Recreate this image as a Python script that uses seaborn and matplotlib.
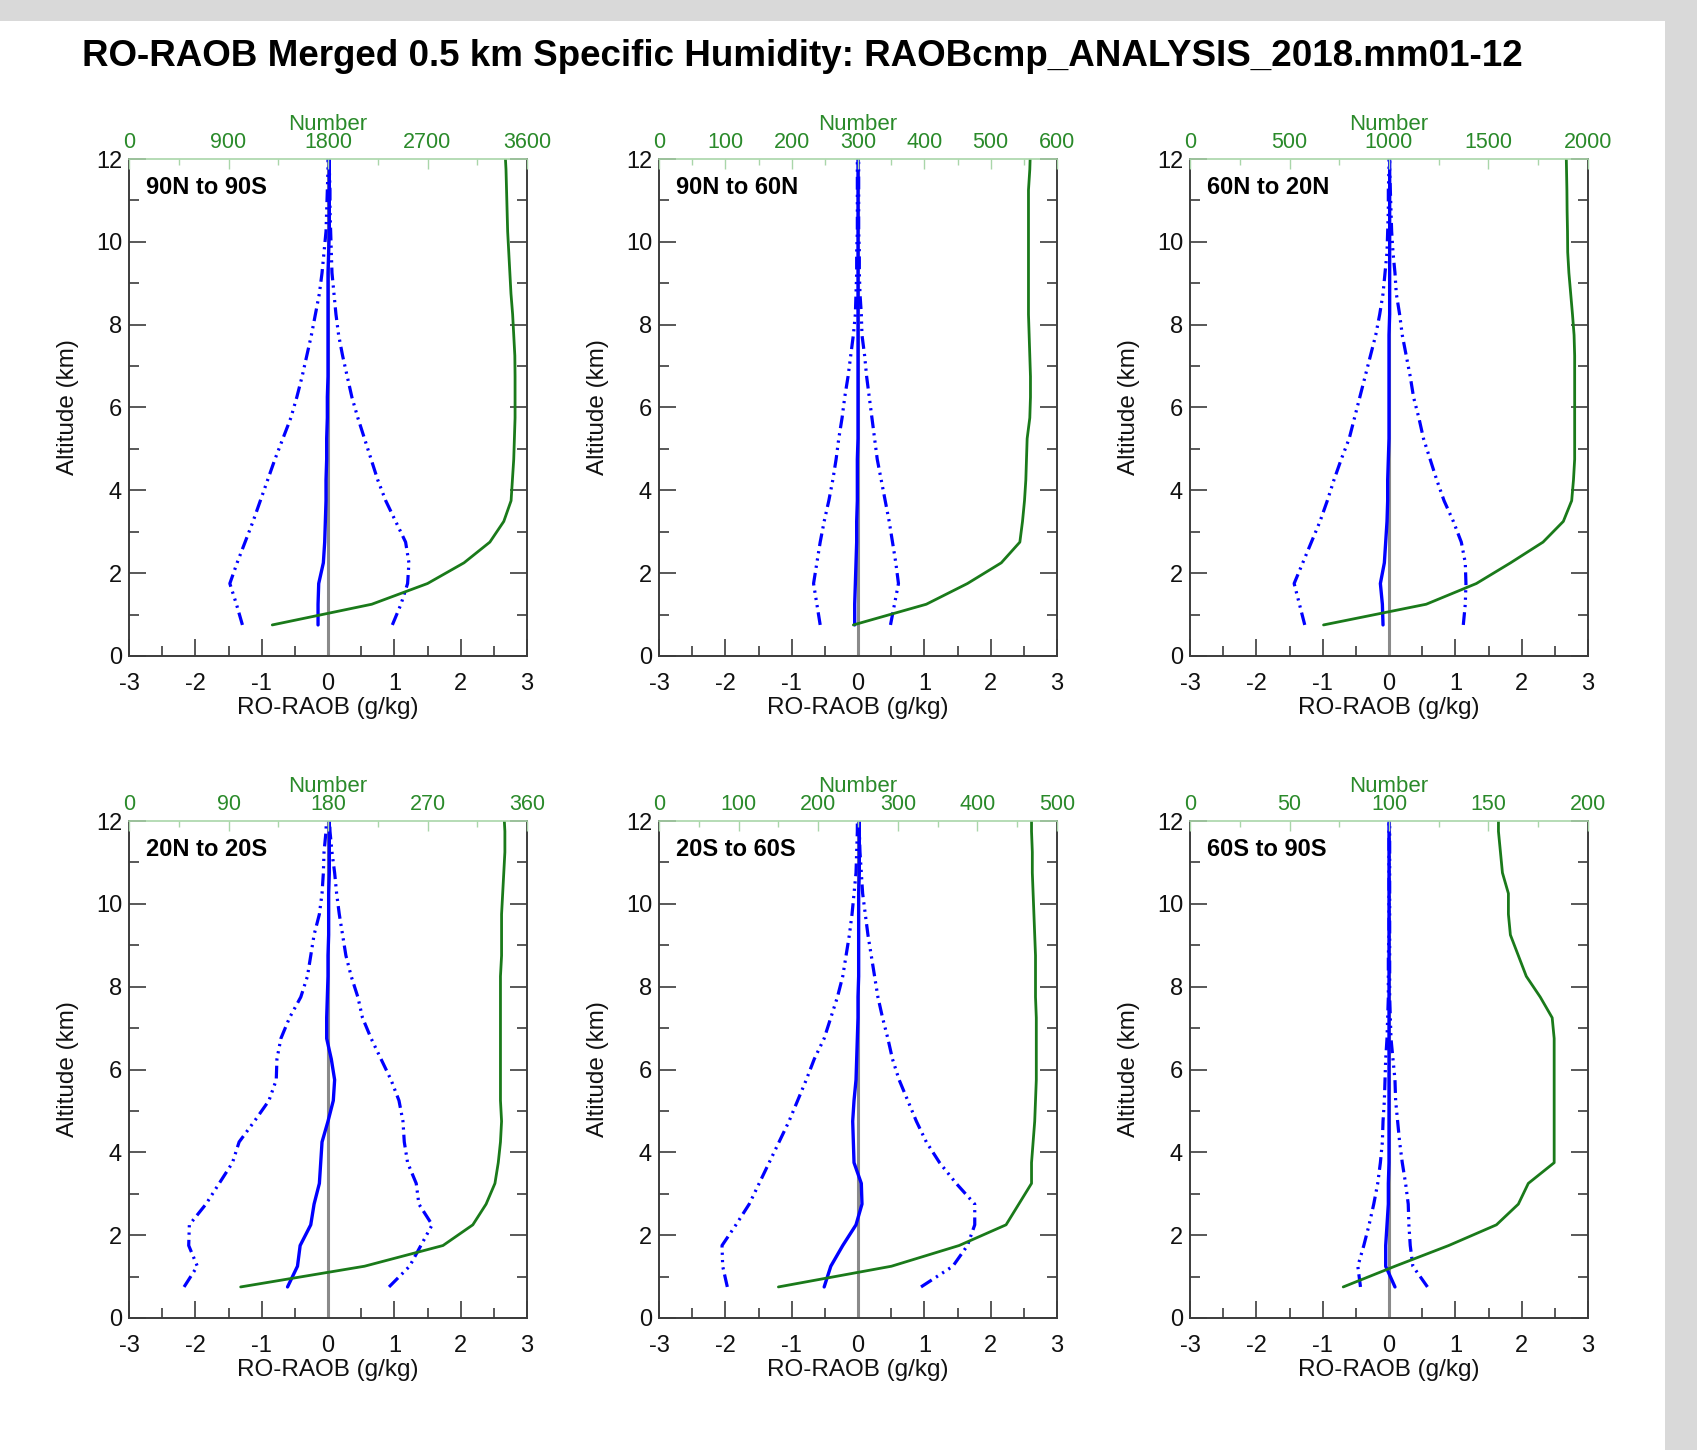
import numpy as np
import pandas as pd
import matplotlib
matplotlib.use("Agg")
import matplotlib.pyplot as plt
from matplotlib.ticker import MultipleLocator
from matplotlib.patches import Rectangle
import seaborn as sns

# ---------------- data ----------------
title = "RO-RAOB Merged 0.5 km Specific Humidity: RAOBcmp_ANALYSIS_2018.mm01-12"
regions = ["90N to 90S", "90N to 60N", "60N to 20N", "20N to 20S", "20S to 60S", "60S to 90S"]
altitude = [0.75, 1.25, 1.75, 2.25, 2.75, 3.25, 3.75, 4.25, 4.75, 5.25, 5.75, 6.25,
            6.75, 7.25, 7.75, 8.25, 8.75, 9.25, 9.75, 10.25, 10.75, 11.25, 11.75, 12.25]
number_max = [3600, 600, 2000, 360, 500, 200]
number_step = [900, 100, 500, 90, 100, 50]

mean1 = [-0.15, -0.15, -0.14, -0.07, -0.05, -0.04, -0.03, -0.03, -0.02, -0.02, -0.01, -0.01,
         0.0, 0.0, 0.0, 0.0, 0.0, 0.0, 0.01, 0.02, 0.02, 0.02, 0.02, 0.02]
lo1 = [-1.29, -1.38, -1.48, -1.37, -1.25, -1.13, -1.02, -0.91, -0.80, -0.68, -0.56, -0.47,
       -0.39, -0.32, -0.25, -0.19, -0.13, -0.09, -0.06, -0.03, -0.02, -0.01, 0.0, 0.0]
hi1 = [0.97, 1.10, 1.20, 1.22, 1.17, 1.02, 0.87, 0.75, 0.65, 0.55, 0.45, 0.36,
       0.29, 0.22, 0.16, 0.12, 0.09, 0.06, 0.05, 0.04, 0.03, 0.03, 0.02, 0.02]
num1 = [1296, 2196, 2700, 3030, 3264, 3390, 3456, 3468, 3480, 3486, 3492, 3492,
        3492, 3490, 3480, 3470, 3455, 3445, 3435, 3425, 3420, 3415, 3410, 3400]

mean2 = [-0.05, -0.05, -0.04, -0.03, -0.02, -0.02, -0.01, -0.01, -0.01, 0.0, 0.0, 0.0,
         0.0, 0.0, 0.0, 0.0, 0.0, 0.0, 0.0, 0.0, 0.0, 0.0, 0.0, 0.0]
lo2 = [-0.57, -0.62, -0.67, -0.62, -0.57, -0.51, -0.44, -0.38, -0.33, -0.29, -0.24, -0.20,
       -0.15, -0.11, -0.07, -0.04, -0.03, -0.02, -0.02, -0.01, -0.01, -0.01, -0.01, -0.01]
hi2 = [0.49, 0.55, 0.61, 0.57, 0.52, 0.47, 0.41, 0.35, 0.29, 0.25, 0.21, 0.17,
       0.13, 0.10, 0.06, 0.05, 0.03, 0.02, 0.02, 0.01, 0.01, 0.01, 0.01, 0.01]
num2 = [293, 403, 465, 516, 544, 548, 551, 553, 554, 555, 559, 560,
        560, 559, 558, 557, 557, 557, 557, 557, 557, 557, 559, 560]

mean3 = [-0.09, -0.10, -0.13, -0.07, -0.05, -0.03, -0.02, -0.02, -0.01, 0.0, 0.0, 0.0,
         0.0, 0.0, 0.0, 0.01, 0.01, 0.01, 0.01, 0.01, 0.01, 0.01, 0.01, 0.01]
lo3 = [-1.27, -1.35, -1.43, -1.30, -1.17, -1.04, -0.93, -0.83, -0.72, -0.60, -0.52, -0.44,
       -0.36, -0.28, -0.20, -0.14, -0.09, -0.06, -0.03, -0.02, -0.01, -0.01, 0.0, 0.0]
hi3 = [1.12, 1.15, 1.16, 1.15, 1.09, 0.97, 0.83, 0.72, 0.62, 0.52, 0.45, 0.37,
       0.32, 0.26, 0.20, 0.16, 0.11, 0.09, 0.06, 0.04, 0.03, 0.02, 0.01, 0.01]
num3 = [671, 1187, 1439, 1611, 1774, 1876, 1918, 1927, 1933, 1933, 1933, 1933,
        1933, 1933, 1930, 1922, 1913, 1904, 1898, 1897, 1895, 1894, 1892, 1890]

mean4 = [-0.61, -0.46, -0.42, -0.26, -0.21, -0.13, -0.11, -0.09, 0.0, 0.08, 0.10, 0.05,
         -0.02, -0.02, -0.01, 0.0, 0.0, 0.01, 0.01, 0.01, 0.02, 0.02, 0.02, 0.02]
lo4 = [-2.17, -1.97, -2.10, -2.09, -1.84, -1.64, -1.44, -1.34, -1.11, -0.89, -0.78, -0.77,
       -0.71, -0.58, -0.41, -0.31, -0.26, -0.21, -0.13, -0.09, -0.07, -0.06, -0.03, -0.02]
hi4 = [0.92, 1.23, 1.40, 1.57, 1.37, 1.33, 1.20, 1.15, 1.13, 1.07, 0.95, 0.80,
       0.65, 0.52, 0.45, 0.35, 0.27, 0.22, 0.17, 0.13, 0.10, 0.06, 0.03, 0.02]
num4 = [101, 213, 284, 311, 323, 331, 334, 336, 337, 336, 336, 336,
        336, 336, 336, 336, 337, 337, 337, 338, 339, 340, 340, 339]

mean5 = [-0.51, -0.41, -0.23, -0.03, 0.06, 0.05, -0.06, -0.07, -0.08, -0.06, -0.03, -0.02,
         -0.01, 0.0, 0.0, 0.01, 0.01, 0.01, 0.01, 0.01, 0.02, 0.02, 0.02, 0.02]
lo5 = [-1.97, -2.04, -2.05, -1.84, -1.64, -1.49, -1.34, -1.19, -1.04, -0.91, -0.78, -0.66,
       -0.51, -0.41, -0.31, -0.23, -0.18, -0.13, -0.09, -0.06, -0.03, -0.02, -0.01, -0.01]
hi5 = [0.95, 1.43, 1.65, 1.76, 1.76, 1.48, 1.23, 1.03, 0.88, 0.75, 0.62, 0.52,
       0.45, 0.37, 0.30, 0.25, 0.20, 0.15, 0.11, 0.07, 0.05, 0.03, 0.02, 0.02]
num5 = [150, 292, 377, 436, 452, 468, 468, 470, 472, 473, 474, 474,
        474, 474, 473, 473, 473, 472, 471, 470, 469, 469, 468, 468]

mean6 = [0.09, -0.05, -0.05, -0.03, -0.01, -0.01, 0.0, 0.0, 0.0, 0.0, 0.0, 0.0,
         0.0, 0.0, 0.0, 0.0, 0.0, 0.0, 0.0, 0.0, 0.0, 0.0, 0.0, 0.0]
lo6 = [-0.43, -0.47, -0.38, -0.30, -0.23, -0.17, -0.13, -0.10, -0.09, -0.07, -0.06, -0.05,
       -0.03, -0.02, -0.01, -0.01, -0.01, 0.0, 0.0, 0.0, 0.0, 0.0, 0.0, 0.0]
hi6 = [0.58, 0.36, 0.32, 0.30, 0.29, 0.25, 0.20, 0.16, 0.13, 0.10, 0.09, 0.06,
       0.03, 0.02, 0.01, 0.01, 0.01, 0.01, 0.01, 0.01, 0.01, 0.01, 0.01, 0.01]
num6 = [77, 103, 130, 154, 165, 170, 183, 183, 183, 183, 183, 183,
        183, 182, 176, 169, 165, 161, 160, 160, 157, 156, 155, 155]

means = [mean1, mean2, mean3, mean4, mean5, mean6]
lows = [lo1, lo2, lo3, lo4, lo5, lo6]
highs = [hi1, hi2, hi3, hi4, hi5, hi6]
numbers = [num1, num2, num3, num4, num5, num6]

# ---------------- style ----------------
sns.set_theme(style="white")
plt.rcParams["font.family"] = ["Liberation Sans", "DejaVu Sans"]
plt.rcParams["axes.unicode_minus"] = False

W, H = 1697, 1450
fig = plt.figure(figsize=(W / 100, H / 100), dpi=100, facecolor="#d9d9d9")
fig.patches.append(Rectangle((0, 0), 1665 / W, 1 - 21 / H, transform=fig.transFigure,
                             facecolor="white", edgecolor="none", zorder=-10))

fig.text(802 / W, 1 - 56 / H, title, ha="center", va="center",
         fontsize=26.5, fontweight="bold", color="black")

blue = "#0000ff"
green_line = "#1a7a1a"
green_text = "#2a8a2a"
green_spine = "#a9d6a9"
axis_gray = "#3c3c3c"
dashdot3 = (0, (4.0, 1.6, 0.7, 1.6, 0.7, 1.6, 0.7, 1.6))

lefts = [129, 659, 1190]
tops = [159, 821]
pw, ph = 398, 497

for i in range(6):
    r, c = divmod(i, 3)
    l, t = lefts[c], tops[r]
    ax = fig.add_axes([l / W, 1 - (t + ph) / H, pw / W, ph / H])
    ax.set_facecolor("white")
    ax.axvline(0, color="#8a8a8a", lw=2.2, zorder=1)

    sns.lineplot(x=lows[i], y=altitude, sort=False, estimator=None, ax=ax,
                 color=blue, lw=2.3, linestyle=dashdot3, zorder=3)
    sns.lineplot(x=highs[i], y=altitude, sort=False, estimator=None, ax=ax,
                 color=blue, lw=2.3, linestyle=dashdot3, zorder=3)
    sns.lineplot(x=means[i], y=altitude, sort=False, estimator=None, ax=ax,
                 color=blue, lw=2.4, zorder=4)

    ax.set_xlim(-3, 3)
    ax.set_ylim(0, 12)
    ax.xaxis.set_major_locator(MultipleLocator(1))
    ax.xaxis.set_minor_locator(MultipleLocator(0.5))
    ax.yaxis.set_major_locator(MultipleLocator(2))
    ax.yaxis.set_minor_locator(MultipleLocator(1))
    ax.tick_params(which="both", direction="in", top=False, right=True, bottom=True, left=True,
                   color=axis_gray, width=1.2, labelsize=17, labelcolor="#111111")
    ax.tick_params(which="major", length=12)
    ax.tick_params(which="minor", length=7)
    ax.tick_params(axis="x", pad=12)
    ax.tick_params(axis="y", pad=5)
    for s in ["left", "bottom", "right"]:
        ax.spines[s].set_color(axis_gray)
        ax.spines[s].set_linewidth(1.4)
    ax.spines["top"].set_visible(False)
    ax.set_xlabel("RO-RAOB (g/kg)", fontsize=17.5, labelpad=2, color="#111111")
    ax.set_ylabel("Altitude (km)", fontsize=17.5, labelpad=12, color="#111111")
    ax.text(0.043, 0.942, regions[i], transform=ax.transAxes, ha="left", va="center",
            fontsize=17, fontweight="bold", color="black", zorder=6)

    ax2 = ax.twiny()
    sns.lineplot(x=numbers[i], y=altitude, sort=False, estimator=None, ax=ax2,
                 color=green_line, lw=2.0, zorder=2)
    ax2.set_xlim(0, number_max[i])
    ax2.set_ylim(0, 12)
    ax2.xaxis.set_major_locator(MultipleLocator(number_step[i]))
    ax2.xaxis.set_minor_locator(MultipleLocator(number_step[i] / 2))
    ax2.tick_params(axis="x", which="both", direction="in", color=green_spine,
                    labelcolor=green_text, labelsize=15.5, width=1.0, pad=4)
    ax2.tick_params(axis="x", which="major", length=7)
    ax2.tick_params(axis="x", which="minor", length=4)
    for s in ["left", "bottom", "right"]:
        ax2.spines[s].set_visible(False)
    ax2.spines["top"].set_color(green_spine)
    ax2.spines["top"].set_linewidth(1.2)
    ax2.set_xlabel("Number", fontsize=16, color=green_text, labelpad=2)
    ax2.set_ylabel("")

fig.savefig("out.png", dpi=100, facecolor=fig.get_facecolor())
